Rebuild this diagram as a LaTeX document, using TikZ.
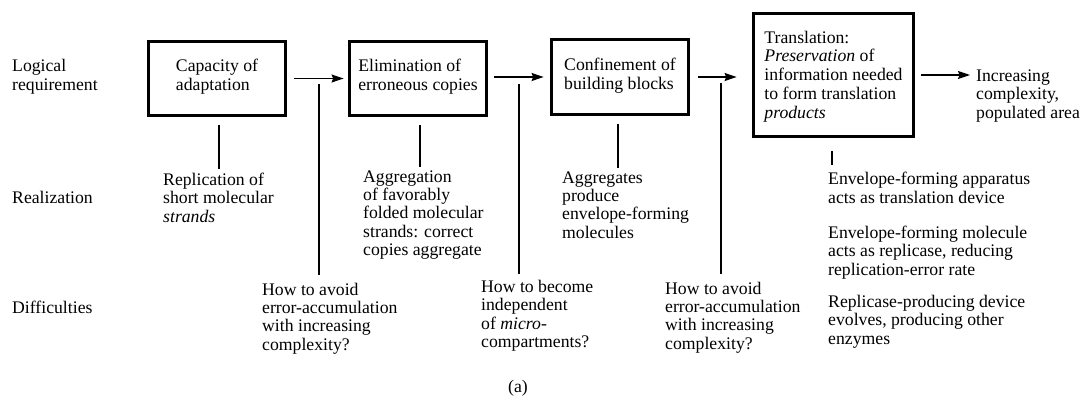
\documentclass[tikz,border=0pt]{standalone}
\usepackage{fontspec}
\setmainfont{Liberation Serif}
\usetikzlibrary{arrows.meta,calc}
\begin{document}
\begin{tikzpicture}[x=1pt,y=-1pt,
  every node/.style={font=\fontsize{17.7}{18.3}\selectfont},
  lbl/.style={anchor=base west, inner sep=0pt, align=left},
  req/.style={draw, line width=2.8pt, align=left, inner sep=0pt, minimum width=137pt, text depth=0pt},
  conn/.style={line width=1.2pt},
  arr/.style={conn, -{Stealth[length=12pt,width=8pt,inset=1.5pt]}}]
\useasboundingbox[fill=white] (0,0) rectangle (1084,400);

% row labels (anchored at the baseline of the last line)
\node[lbl] (lreq) at (12,90) {Logical\\requirement};
\node[lbl] (lrea) at (12,203) {Realization};
\node[lbl] (ldif) at (12,313) {Difficulties};

% logical requirement boxes
\node[req, minimum height=74pt, text height=23pt] (b1) at (217,78.5) {Capacity of\\adaptation};
\node[req, minimum height=74pt, text height=23pt] (b2) at (418,78.5) {Elimination of\\erroneous copies};
\node[req, minimum height=75pt, text height=24pt] (b3) at (620,77) {Confinement of\\building blocks};
\node[req, minimum width=160pt, minimum height=123pt, text height=86pt,
  font=\fontsize{17.7}{18.75}\selectfont] (b4) at (833.5,75)
  {Translation:\\\textit{Preservation} of\\information needed\\to form translation\\\textit{products}};
\node[lbl] (inc) at (976,118) {Increasing\\complexity,\\populated area};

% realizations
\node[lbl] (r1) at (163,222) {Replication of\\short molecular\\\textit{strands}};
\node[lbl] (r2) at (363,255.5) {Aggregation\\of favorably\\folded molecular\\strands: correct\\copies aggregate};
\node[lbl] (r3) at (562,238) {Aggregates\\produce\\envelope-forming\\molecules};
\node[lbl] (r4a) at (828,203) {Envelope-forming apparatus\\acts as translation device};
\node[lbl] (r4b) at (828,275) {Envelope-forming molecule\\acts as replicase, reducing\\replication-error rate};
\node[lbl] (r4c) at (828,344) {Replicase-producing device\\evolves, producing other\\enzymes};

% difficulties
\node[lbl] (d1) at (262,350) {How to avoid\\error-accumulation\\with increasing\\complexity?};
\node[lbl] (d2) at (481,347.5) {How to become\\independent\\of \textit{micro}-\\compartments?};
\node[lbl] (d3) at (665,349) {How to avoid\\error-accumulation\\with increasing\\complexity?};

\node[anchor=base, inner sep=0pt] (cap) at (518,392) {(a)};

% arrows
\draw[arr] ([xshift=7.5pt]b1.east) -- ([xshift=-4.5pt]b2.west);
\draw[arr] ([xshift=6.5pt]b2.east |- b3.east) -- ([xshift=-6.5pt]b3.west);
\draw[arr] ([xshift=8.5pt]b3.east) -- ([xshift=-15.5pt]b3.east -| b4.west);
\draw[arr] ([xshift=6.5pt]b4.east) -- ([xshift=-6pt]b4.east -| inc.west);

% box to realization
\draw[conn] ([xshift=2pt,yshift=-8pt]b1.south) -- ([xshift=2pt,yshift=4pt]b1.south |- r1.north);
\draw[conn] ([xshift=2pt,yshift=-8pt]b2.south) -- ([xshift=2pt,yshift=3.5pt]b2.south |- r2.north);
\draw[conn] ([xshift=-2pt,yshift=-8.4pt]b3.south) -- ([xshift=-2pt,yshift=3.5pt]b3.south |- r3.north);
\draw[conn] ([xshift=-1.5pt,yshift=-13.4pt]b4.south) -- ([xshift=-1.5pt,yshift=7.5pt]b4.south |- r4a.north);

% lines to difficulties
\coordinate (j1) at (319,84);
\coordinate (j2) at (519,84);
\coordinate (j3) at (721,83);
\draw[conn, shorten >=8pt] (j1) -- (j1 |- d1.north);
\draw[conn, shorten >=6.5pt] (j2) -- (j2 |- d2.north);
\draw[conn, shorten >=7.5pt] (j3) -- (j3 |- d3.north);
\end{tikzpicture}
\end{document}
